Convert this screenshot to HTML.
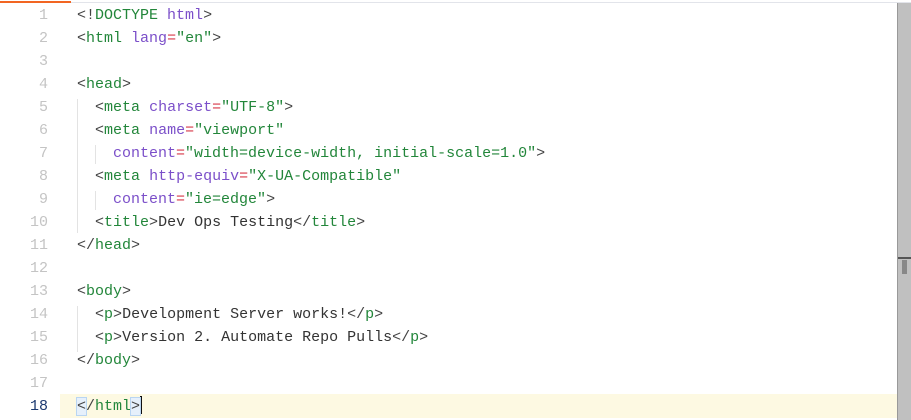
<!DOCTYPE html>
<html><head><meta charset="utf-8"><style>
html,body{margin:0;padding:0;width:911px;height:420px;overflow:hidden;background:#fff;position:relative}
.topo{position:absolute;left:0;top:1px;width:71px;height:2px;background:#f26522}
.topg{position:absolute;left:71px;top:2px;right:0;height:1px;background:#e2e4ea}
.sb{position:absolute;left:897px;top:3px;width:14px;height:417px;background:#c0c0c0;border-left:1px solid #999;box-sizing:border-box}
.sb .m{position:absolute;left:0;top:254px;width:14px;height:2px;background:#555}
.sb .t{position:absolute;left:4px;top:257px;width:5px;height:14px;background:#888}
.hl{position:absolute;left:60px;top:394px;width:837px;height:24px;background:#fdf9e2}
.code{position:absolute;left:0;top:3.5px;font-family:"Liberation Mono",monospace;font-size:15px;line-height:23px;color:#333}
.l{position:relative;height:23px;white-space:pre}
.n{position:absolute;left:0;width:48px;text-align:right;color:#c4c4c4}
.c{position:absolute;left:77px}
.g{color:#22863a}.p{color:#7b4fc9}.r{color:#d73a49}.s{color:#22863a}.k{color:#444}
.cur .n{color:#1c3a70}
.guide{position:absolute;width:1px;background:#e3e3e3}
.bx{background:#e6f0fb;outline:1px solid #b9d5f2}
.caret{display:inline-block;width:2px;height:18px;background:#111;vertical-align:-4px}
</style></head><body>
<div class="topo"></div><div class="topg"></div>
<div class="hl"></div>
<div class="guide" style="left:77px;top:99px;height:134px"></div>
<div class="guide" style="left:95px;top:145px;height:19px"></div>
<div class="guide" style="left:95px;top:191px;height:19px"></div>
<div class="guide" style="left:77px;top:306px;height:46px"></div>
<div class="code">
<div class="l"><span class="n">1</span><span class="c"><span class="k">&lt;!</span><span class="g">DOCTYPE</span> <span class="p">html</span><span class="k">&gt;</span></span></div>
<div class="l"><span class="n">2</span><span class="c"><span class="k">&lt;</span><span class="g">html</span> <span class="p">lang</span><span class="r">=</span><span class="s">"en"</span><span class="k">&gt;</span></span></div>
<div class="l"><span class="n">3</span><span class="c"></span></div>
<div class="l"><span class="n">4</span><span class="c"><span class="k">&lt;</span><span class="g">head</span><span class="k">&gt;</span></span></div>
<div class="l"><span class="n">5</span><span class="c">  <span class="k">&lt;</span><span class="g">meta</span> <span class="p">charset</span><span class="r">=</span><span class="s">"UTF-8"</span><span class="k">&gt;</span></span></div>
<div class="l"><span class="n">6</span><span class="c">  <span class="k">&lt;</span><span class="g">meta</span> <span class="p">name</span><span class="r">=</span><span class="s">"viewport"</span></span></div>
<div class="l"><span class="n">7</span><span class="c">    <span class="p">content</span><span class="r">=</span><span class="s">"width=device-width, initial-scale=1.0"</span><span class="k">&gt;</span></span></div>
<div class="l"><span class="n">8</span><span class="c">  <span class="k">&lt;</span><span class="g">meta</span> <span class="p">http-equiv</span><span class="r">=</span><span class="s">"X-UA-Compatible"</span></span></div>
<div class="l"><span class="n">9</span><span class="c">    <span class="p">content</span><span class="r">=</span><span class="s">"ie=edge"</span><span class="k">&gt;</span></span></div>
<div class="l"><span class="n">10</span><span class="c">  <span class="k">&lt;</span><span class="g">title</span><span class="k">&gt;</span>Dev Ops Testing<span class="k">&lt;/</span><span class="g">title</span><span class="k">&gt;</span></span></div>
<div class="l"><span class="n">11</span><span class="c"><span class="k">&lt;/</span><span class="g">head</span><span class="k">&gt;</span></span></div>
<div class="l"><span class="n">12</span><span class="c"></span></div>
<div class="l"><span class="n">13</span><span class="c"><span class="k">&lt;</span><span class="g">body</span><span class="k">&gt;</span></span></div>
<div class="l"><span class="n">14</span><span class="c">  <span class="k">&lt;</span><span class="g">p</span><span class="k">&gt;</span>Development Server works!<span class="k">&lt;/</span><span class="g">p</span><span class="k">&gt;</span></span></div>
<div class="l"><span class="n">15</span><span class="c">  <span class="k">&lt;</span><span class="g">p</span><span class="k">&gt;</span>Version 2. Automate Repo Pulls<span class="k">&lt;/</span><span class="g">p</span><span class="k">&gt;</span></span></div>
<div class="l"><span class="n">16</span><span class="c"><span class="k">&lt;/</span><span class="g">body</span><span class="k">&gt;</span></span></div>
<div class="l"><span class="n">17</span><span class="c"></span></div>
<div class="l cur"><span class="n">18</span><span class="c"><span class="k bx">&lt;</span><span class="k">/</span><span class="g">html</span><span class="k bx">&gt;</span><span class="caret"></span></span></div>
</div>
<div class="sb"><div class="m"></div><div class="t"></div></div>
</body></html>
